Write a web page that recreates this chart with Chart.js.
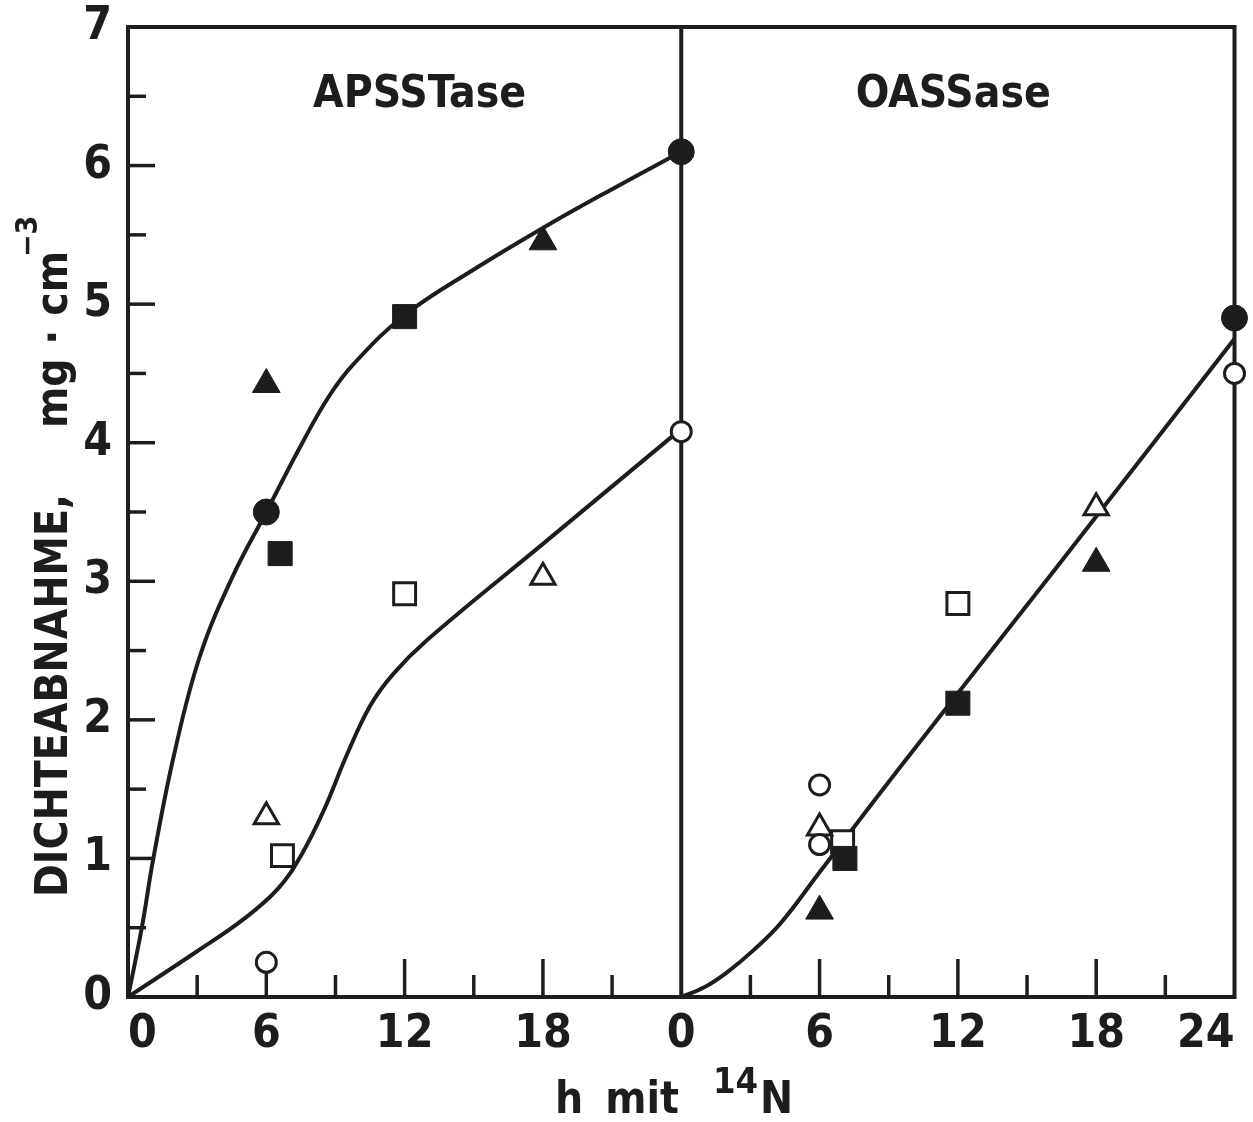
<!DOCTYPE html>
<html>
<head>
<meta charset="utf-8">
<title>Dichteabnahme APSSTase / OASSase</title>
<script src="https://cdn.jsdelivr.net/npm/chart.js@4.4.1/dist/chart.umd.min.js"></script>
<style>
  html, body { margin: 0; padding: 0; background: #fff; }
  #wrap { width: 1253px; height: 1122px; }
</style>
</head>
<body>
<div id="wrap"><canvas id="chart"></canvas></div>
<script>
'use strict';

/* ---- data: hours with 14N, density decrease in mg/cm3 ---- */

// APSSTase (left panel), hours 0-24
const apsUpperCurveH = [0, 0.6, 1.1, 2, 3.1, 4.5, 6, 7.5, 8.7, 9.8, 12, 15, 18, 21, 24];
const apsUpperCurveV = [0, 0.5, 1.0, 1.75, 2.45, 3.02, 3.5, 3.98, 4.33, 4.57, 4.92, 5.25, 5.55, 5.83, 6.1];
const apsLowerCurveH = [0, 3, 5, 6.5, 7.5, 8.5, 9.5, 10.5, 11.5, 13, 18, 24];
const apsLowerCurveV = [0, 0.33, 0.56, 0.78, 1.02, 1.35, 1.75, 2.1, 2.33, 2.58, 3.27, 4.1];

const apsFilledCircleH = [6, 24];     const apsFilledCircleV = [3.5, 6.1];
const apsFilledTriangleH = [6, 18];   const apsFilledTriangleV = [4.42, 5.45];
const apsFilledSquareH = [6.6, 12];   const apsFilledSquareV = [3.2, 4.91];
const apsOpenCircleH = [6, 24];       const apsOpenCircleV = [0.25, 4.08];
const apsOpenTriangleH = [6, 18];     const apsOpenTriangleV = [1.3, 3.03];
const apsOpenSquareH = [6.7, 12];     const apsOpenSquareV = [1.02, 2.91];

// OASSase (right panel), hours 0-24
const oasCurveH = [0, 1, 2, 3.15, 4.3, 6, 9.5, 16, 24];
const oasCurveV = [0, 0.07, 0.18, 0.34, 0.53, 0.9, 1.66, 3.04, 4.75];

const oasFilledCircleH = [24];        const oasFilledCircleV = [4.9];
const oasFilledTriangleH = [6, 18];   const oasFilledTriangleV = [0.62, 3.13];
const oasFilledSquareH = [7.1, 12];   const oasFilledSquareV = [1.0, 2.12];
const oasOpenCircleH = [6, 6, 24];    const oasOpenCircleV = [1.53, 1.1, 4.5];
const oasOpenTriangleH = [6, 18];     const oasOpenTriangleV = [1.22, 3.53];
const oasOpenSquareH = [7.0, 12];     const oasOpenSquareV = [1.12, 2.84];

// axis ticks
const yMajorTicks = [1, 2, 3, 4, 5, 6];
const yMinorTicks = [0.5, 1.5, 2.5, 3.5, 4.5, 5.5, 6.5];
const xMajorTicksH = [6, 12, 18];
const xMinorTicksH = [3, 9, 15, 21];

const panelTitles = ['APSSTase', 'OASSase'];

/* ---- style ---- */

const INK = '#1d1d1d';
const PANEL_OFFSET = 24; // right panel starts where the left one ends
const LETTER_FONT = "'DejaVu Sans Condensed', 'DejaVu Sans', sans-serif";
const DIGIT_FONT = "'Liberation Sans Narrow', 'DejaVu Sans Condensed', 'DejaVu Sans', sans-serif";

/**
 * Turns hour/value arrays into chart points, shifted into the given panel.
 */
function toPoints(hours, values, offset) {
  return hours.map((h, i) => ({ x: h + offset, y: values[i] }));
}

function bothPanels(leftH, leftV, rightH, rightV) {
  return toPoints(leftH, leftV, 0).concat(toPoints(rightH, rightV, PANEL_OFFSET));
}

function curveSet(label, points) {
  return {
    label,
    data: points,
    showLine: true,
    borderColor: INK,
    borderWidth: 4,
    pointRadius: 0,
    pointHoverRadius: 0,
    tension: 0.4,
    fill: false,
    order: 1,
  };
}

function markerSet(label, style, filled, radius, points) {
  return {
    label,
    data: points,
    showLine: false,
    pointStyle: style,
    pointRadius: radius,
    pointHoverRadius: radius,
    backgroundColor: filled ? INK : '#fff',
    pointBackgroundColor: filled ? INK : '#fff',
    borderColor: INK,
    pointBorderColor: INK,
    pointBorderWidth: filled ? 1 : 3,
    clip: false,
    order: 0,
  };
}

/** Draws a run of text pieces along the baseline, with size and rise per piece. */
function drawRun(ctx, x, y, pieces) {
  let cx = x;
  pieces.forEach((p) => {
    cx += p.gap || 0;
    ctx.font = `bold ${p.size}px ${LETTER_FONT}`;
    ctx.fillText(p.text, cx, y - (p.rise || 0));
    cx += ctx.measureText(p.text).width;
  });
}

const frameAndTicks = {
  id: 'frameAndTicks',
  beforeDatasetsDraw(chart) {
    const { ctx, chartArea: a, scales: { x, y } } = chart;
    const seg = (x1, y1, x2, y2) => {
      ctx.beginPath();
      ctx.moveTo(x1, y1);
      ctx.lineTo(x2, y2);
      ctx.stroke();
    };
    ctx.save();
    ctx.strokeStyle = INK;
    ctx.lineWidth = 4;
    ctx.strokeRect(a.left, a.top, a.right - a.left, a.bottom - a.top);
    const xd = x.getPixelForValue(PANEL_OFFSET);
    seg(xd, a.top, xd, a.bottom);

    ctx.lineWidth = 3.5;
    yMajorTicks.forEach((v) => seg(a.left, y.getPixelForValue(v), a.left + 27, y.getPixelForValue(v)));
    yMinorTicks.forEach((v) => seg(a.left, y.getPixelForValue(v), a.left + 18, y.getPixelForValue(v)));
    [0, PANEL_OFFSET].forEach((off) => {
      xMajorTicksH.forEach((h) => seg(x.getPixelForValue(h + off), a.bottom, x.getPixelForValue(h + off), a.bottom - 38));
      xMinorTicksH.forEach((h) => seg(x.getPixelForValue(h + off), a.bottom, x.getPixelForValue(h + off), a.bottom - 22));
    });
    ctx.restore();
  },
  afterDraw(chart) {
    const { ctx, chartArea: a, scales: { x } } = chart;
    ctx.save();
    ctx.fillStyle = INK;
    ctx.textBaseline = 'alphabetic';

    // panel titles
    ctx.textAlign = 'center';
    ctx.font = `bold 44px ${LETTER_FONT}`;
    ctx.fillText(panelTitles[0], x.getPixelForValue(12.65), a.top + 80);
    ctx.fillText(panelTitles[1], x.getPixelForValue(35.8), a.top + 80);

    // x axis title
    ctx.textAlign = 'left';
    drawRun(ctx, a.left + 427, a.bottom + 116, [
      { text: 'h', size: 44 },
      { text: 'mit', size: 44, gap: 22 },
      { text: '14', size: 36, rise: 20, gap: 34 },
      { text: 'N', size: 44, gap: 2 },
    ]);

    // y axis title, rotated
    ctx.translate(a.left - 61, a.bottom - 100);
    ctx.rotate(-Math.PI / 2);
    drawRun(ctx, 0, 0, [
      { text: 'DICHTEABNAHME,', size: 44 },
      { text: 'mg · cm', size: 44, gap: 66 },
      { text: '\u22123', size: 30, rise: 30, gap: -6 },
    ]);
    ctx.restore();
  },
};

const tickFont = { family: DIGIT_FONT, size: 46, weight: 'bold' };

new Chart(document.getElementById('chart'), {
  type: 'scatter',
  data: {
    datasets: [
      markerSet('gefüllter Kreis', 'circle', true, 13,
        bothPanels(apsFilledCircleH, apsFilledCircleV, oasFilledCircleH, oasFilledCircleV)),
      markerSet('gefülltes Dreieck', 'triangle', true, 16,
        bothPanels(apsFilledTriangleH, apsFilledTriangleV, oasFilledTriangleH, oasFilledTriangleV)),
      markerSet('gefülltes Quadrat', 'rect', true, 17,
        bothPanels(apsFilledSquareH, apsFilledSquareV, oasFilledSquareH, oasFilledSquareV)),
      markerSet('offener Kreis', 'circle', false, 10,
        bothPanels(apsOpenCircleH, apsOpenCircleV, oasOpenCircleH, oasOpenCircleV)),
      markerSet('offenes Dreieck', 'triangle', false, 14,
        bothPanels(apsOpenTriangleH, apsOpenTriangleV, oasOpenTriangleH, oasOpenTriangleV)),
      markerSet('offenes Quadrat', 'rect', false, 15.5,
        bothPanels(apsOpenSquareH, apsOpenSquareV, oasOpenSquareH, oasOpenSquareV)),
      curveSet('APSSTase oben', toPoints(apsUpperCurveH, apsUpperCurveV, 0)),
      curveSet('APSSTase unten', toPoints(apsLowerCurveH, apsLowerCurveV, 0)),
      curveSet('OASSase', toPoints(oasCurveH, oasCurveV, PANEL_OFFSET)),
    ],
  },
  options: {
    responsive: true,
    maintainAspectRatio: false,
    animation: false,
    layout: { padding: { left: 0, right: 16, top: 27, bottom: 0 } },
    plugins: { legend: { display: false }, tooltip: { enabled: false } },
    scales: {
      x: {
        type: 'linear',
        min: 0,
        max: 48,
        grid: { display: false, drawTicks: false },
        border: { display: false },
        ticks: {
          stepSize: 6,
          autoSkip: false,
          maxRotation: 0,
          align: 'inner',
          padding: 10,
          color: INK,
          font: tickFont,
          callback: (v) => (v > PANEL_OFFSET ? v - PANEL_OFFSET : v === PANEL_OFFSET ? 0 : v),
        },
        afterFit: (scale) => {
          scale.height = 125;
          scale.paddingLeft = 0;
          scale.paddingRight = 0;
        },
      },
      y: {
        min: 0,
        max: 7,
        grid: { display: false, drawTicks: false },
        border: { display: false },
        ticks: {
          stepSize: 1,
          padding: 16,
          color: INK,
          font: tickFont,
        },
        afterFit: (scale) => {
          scale.width = 128;
          scale.paddingTop = 0;
          scale.paddingBottom = 0;
        },
      },
    },
  },
  plugins: [frameAndTicks],
});
</script>
</body>
</html>
